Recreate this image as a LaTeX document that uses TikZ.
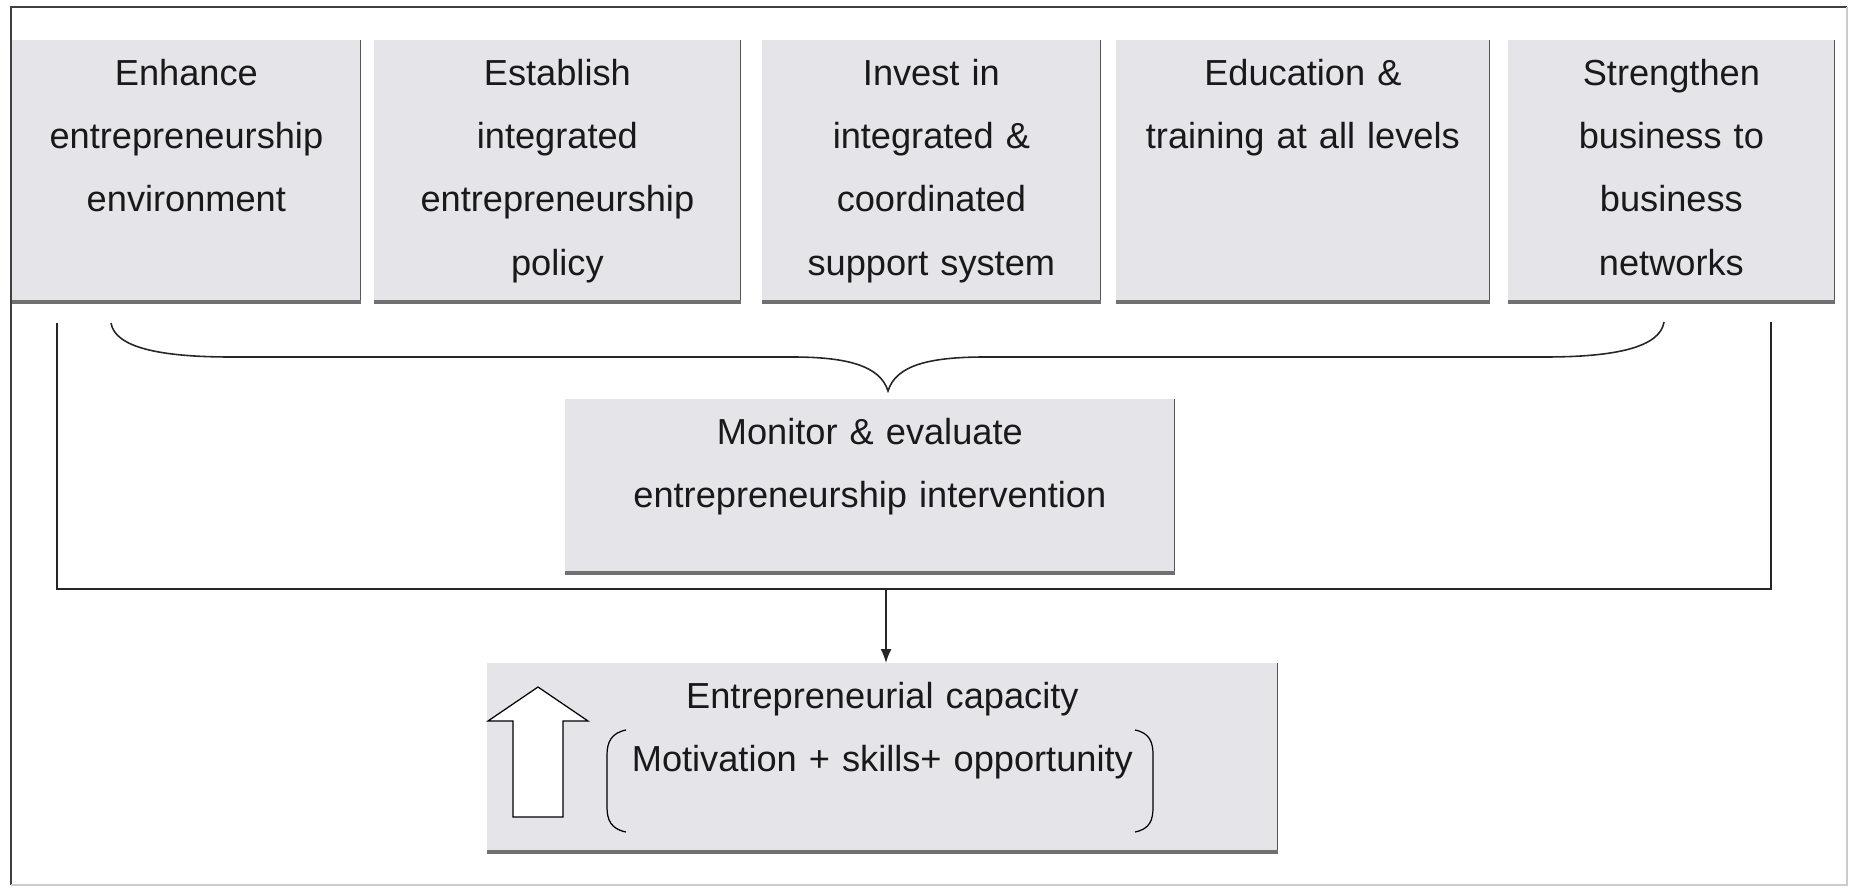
\documentclass[tikz,border=0pt]{standalone}
\usepackage{fontspec}
\setmainfont{Liberation Sans}
\usetikzlibrary{arrows.meta}
\definecolor{panelfill}{RGB}{228,228,233}
\definecolor{edgegray}{RGB}{85,85,85}
\definecolor{footgray}{RGB}{112,112,112}
\tikzset{
  panel/.style={anchor=north west, fill=panelfill, text=black!90, align=center,
    inner xsep=0pt, inner ysep=0.4cm, text height=0.5cm,
    font=\fontsize{20.6}{36}\selectfont,
    append after command={(\tikzlastnode.north east) edge[draw=edgegray, line width=0.8pt] (\tikzlastnode.south east)
      (\tikzlastnode.south west) edge[draw=footgray, line width=2.2pt] (\tikzlastnode.south east)}},
}

\begin{document}
\begin{tikzpicture}
      \useasboundingbox (0,0) rectangle (37.04,-17.76);
      \draw[black!75, line width=0.8pt] (0.22,-17.70) -- (0.22,-0.14) -- (36.94,-0.14);
      \draw[black!20, line width=0.8pt] (36.94,-0.14) -- (36.94,-17.70) -- (0.22,-17.70);

      % top row
      \node[panel, text width=6.96cm, text depth=3.92cm] (enhance) at (0.24,-0.8)
        {Enhance\\entrepreneurship\\environment};
      \node[panel, text width=7.32cm, text depth=3.92cm] (policy) at (7.48,-0.8)
        {Establish\\integrated\\entrepreneurship\\policy};
      \node[panel, text width=6.76cm, text depth=3.92cm] (support) at (15.24,-0.8)
        {Invest in\\integrated \&\\coordinated\\support system};
      \node[panel, text width=7.46cm, text depth=3.92cm] (training) at (22.32,-0.8)
        {Education \&\\training at all levels};
      \node[panel, text width=6.52cm, text depth=3.92cm] (networks) at (30.16,-0.8)
        {Strengthen\\business to\\business\\networks};

      \draw[black!85, line width=0.9pt] (2.22,-6.46) .. controls (2.3,-6.95) and (3.2,-7.14) .. (4.62,-7.14)
        -- (15.85,-7.14) .. controls (16.9,-7.14) and (17.6,-7.3) .. (17.76,-7.82)
        .. controls (17.92,-7.3) and (18.6,-7.14) .. (19.7,-7.14)
        -- (30.9,-7.14) .. controls (32.3,-7.14) and (33.2,-6.95) .. (33.28,-6.44);

      \node[panel, text width=12.18cm, text depth=2.16cm] (monitor) at (11.30,-7.98)
        {Monitor \& evaluate\\entrepreneurship intervention};

      \draw[black!85, line width=0.9pt] (1.14,-6.46) -- (1.14,-11.78) -- (35.42,-11.78) -- (35.42,-6.44);
      \coordinate (join) at (17.72,-11.78);

      \node[panel, text width=15.80cm, text depth=2.46cm] (capacity) at (9.74,-13.26)
        {Entrepreneurial capacity\\Motivation + skills+ opportunity};
      \draw[black!85, line width=0.9pt, -{Latex[length=2.8mm,width=2.2mm]}] (join) -- (join |- capacity.north);

      % hollow arrow and round brackets
      \draw[fill=white, line width=0.7pt] (10.76,-13.74) -- (11.76,-14.42) -- (11.26,-14.42) -- (11.26,-16.34)
        -- (10.26,-16.34) -- (10.26,-14.42) -- (9.76,-14.42) -- cycle;
      \draw[line width=0.7pt] (12.52,-14.6) .. controls (12.22,-14.66) and (12.14,-14.85) .. (12.14,-15.1)
        -- (12.14,-16.14) .. controls (12.14,-16.4) and (12.22,-16.58) .. (12.52,-16.64);
      \draw[line width=0.7pt] (22.70,-14.6) .. controls (23.0,-14.66) and (23.06,-14.85) .. (23.06,-15.1)
        -- (23.06,-16.14) .. controls (23.06,-16.4) and (23.0,-16.58) .. (22.70,-16.64);
\end{tikzpicture}
\end{document}
